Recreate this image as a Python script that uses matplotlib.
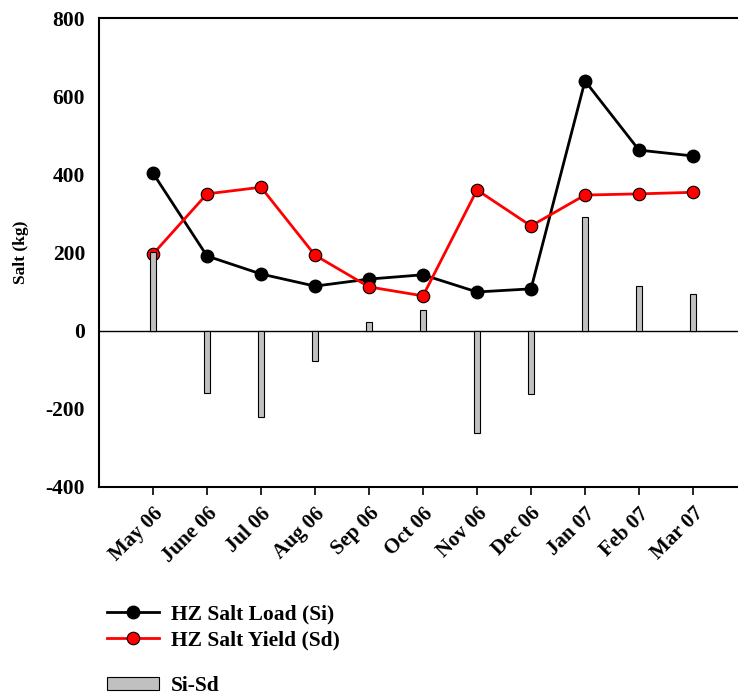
import numpy as np
import matplotlib
matplotlib.use("Agg")
from matplotlib import pyplot as plt
from matplotlib.lines import Line2D
from matplotlib.patches import Patch

plt.rcParams['font.family'] = ['Liberation Serif', 'DejaVu Serif']
plt.rcParams['font.weight'] = 'bold'
plt.rcParams['axes.unicode_minus'] = False

"""Monthly salt data read off the figure"""
months = ['May 06', 'June 06', 'Jul 06', 'Aug 06', 'Sep 06', 'Oct 06',
          'Nov 06', 'Dec 06', 'Jan 07', 'Feb 07', 'Mar 07']
salt_load = [403, 191, 145, 114, 132, 143, 99, 107, 639, 462, 447]      # Si
salt_yield = [196, 350, 367, 193, 112, 89, 360, 268, 347, 350, 354]     # Sd
salt_diff = [200, -160, -220, -78, 22, 53, -262, -162, 290, 114, 94]    # Si-Sd

x = np.arange(len(months))

fig = plt.figure(figsize=(7.38, 6.96), dpi=100)
ax = fig.add_axes([99/738, 1-487/696, 648/738, 469/696])

ax.bar(x, salt_diff, width=0.11, color='#c0c0c0', edgecolor='black',
       linewidth=0.8, zorder=4)
ax.plot(x, salt_load, color='black', lw=2.0, marker='o', ms=9,
        mfc='black', mec='black', zorder=3)
ax.plot(x, salt_yield, color='red', lw=2.0, marker='o', ms=9,
        mfc='red', mec='black', mew=0.8, zorder=3)
ax.axhline(0, color='black', lw=1.0, zorder=2)

ax.set_xlim(-1, 11)
ax.set_ylim(-400, 800)
ax.set_yticks([-400, -200, 0, 200, 400, 600, 800])
ax.set_xticks(x)
ax.set_xticklabels(months, rotation=45, ha='right', rotation_mode='anchor',
                   fontsize=15, fontweight='bold')
ax.tick_params(axis='y', length=0, labelsize=15.5, pad=10)
ax.tick_params(axis='x', length=6, width=1.2, direction='out', pad=6)
for lab in ax.get_yticklabels():
    lab.set_fontweight('bold')
ax.spines['right'].set_visible(False)
for s in ['left', 'top', 'bottom']:
    ax.spines[s].set_linewidth(1.5)
ax.set_ylabel('Salt (kg)', fontsize=12.5, fontweight='bold', labelpad=12)

"""Legends below the plot"""
h1 = [Line2D([], [], color='black', lw=2.0, marker='o', ms=9, mfc='black', mec='black'),
      Line2D([], [], color='red', lw=2.0, marker='o', ms=9, mfc='red', mec='black', mew=0.8)]
leg1 = fig.legend(h1, ['HZ Salt Load (Si)', 'HZ Salt Yield (Sd)'],
                  loc='upper left', bbox_to_anchor=(107/738, 1-604/696),
                  frameon=False, prop={'size': 15.5, 'weight': 'bold'},
                  handlelength=2.4, handletextpad=0.55, labelspacing=0.28,
                  borderaxespad=0, borderpad=0)
h2 = [Patch(facecolor='#c0c0c0', edgecolor='black', linewidth=0.8)]
leg2 = fig.legend(h2, ['Si-Sd'], loc='upper left',
                  bbox_to_anchor=(107/738, 1-676/696), frameon=False,
                  prop={'size': 15.5, 'weight': 'bold'}, handlelength=2.4,
                  handleheight=0.6, handletextpad=0.55, borderaxespad=0, borderpad=0)

fig.savefig('out.png', dpi=100)
